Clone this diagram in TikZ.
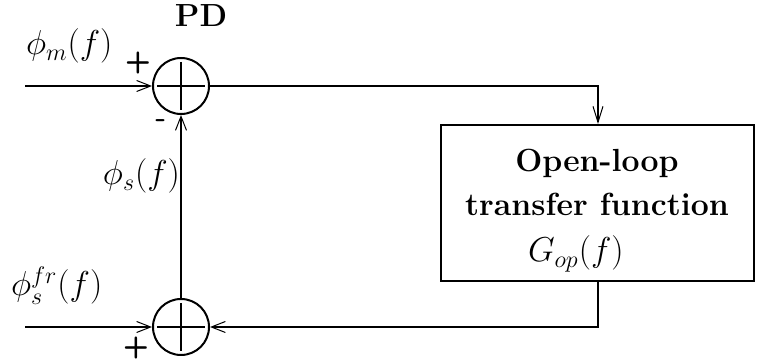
\RequirePackage{fix-cm}
\documentclass[tikz,border=0pt]{standalone}
\usetikzlibrary{arrows.meta}
\begin{document}
\begin{tikzpicture}[x=0.5pt,y=-0.5pt,line width=1pt,
  sumnode/.style={circle,draw,minimum size=28pt,inner sep=0pt},
  blockbox/.style={draw,rectangle,minimum width=156.5pt,minimum height=78pt},
  sig/.style={-{Straight Barb[length=7pt,width=5.5pt,line width=0.5pt]}},
  lbl/.style={font=\fontsize{17.28}{20}\selectfont,inner sep=0pt,anchor=base west},
  sgn/.style={font=\sffamily\bfseries\fontsize{15}{18}\selectfont,inner sep=0pt},
  boxtxt/.style={font=\bfseries\fontsize{16}{19}\selectfont,inner sep=0pt,anchor=base}]
\useasboundingbox (0,0) rectangle (757,362);
% summing junctions
\node[sumnode] (pd) at (181,86) {};
\node[sumnode] (sb) at (181,327) {};
\draw ([xshift=2.5pt]pd.west) -- ([xshift=-2.5pt]pd.east)
      ([yshift=-2.5pt]pd.north) -- ([yshift=2.5pt]pd.south);
\draw ([xshift=2.5pt]sb.west) -- ([xshift=-2.5pt]sb.east)
      ([yshift=-2.5pt]sb.north) -- ([yshift=2.5pt]sb.south);
% open-loop block
\node[blockbox] (g) at (597.5,203) {};
\node[boxtxt] (t1) at (597,172) {Open-loop};
\node[boxtxt] (t2) at (597,216) {transfer function};
\node[lbl] (t3) at (527,262) {$G_{op}(f)$};
% signal paths
\coordinate (inm) at (25,86);
\coordinate (ins) at (25,327);
\coordinate (c1) at (598,86);
\coordinate (c2) at (598,327);
\draw[sig] (inm) -- (pd.west);
\draw[sig] (ins) -- (sb.west);
\draw[sig,-{Straight Barb[length=8pt,width=5pt,line width=0.5pt]}]
  (pd.east) -- (c1) -- (g.north -| c1);
\draw[sig] (g.south -| c2) -- (c2) -- (sb.east);
\draw[sig] (sb.north) -- (pd.south);
% labels
\node[lbl,anchor=base,font=\bfseries\fontsize{16}{19}\selectfont] (pdl) at (201,27) {PD};
\node[lbl] (lm) at (25,55) {$\phi_m(f)$};
\node[lbl] (ls) at (102,185) {$\phi_s(f)$};
\node[lbl] (lfr) at (10,296) {$\phi_s^{fr}(f)$};
\node[sgn] (p1) at (138,63) {+};
\node[sgn] (m1) at (161,124) {-};
\node[sgn] (p2) at (136,348) {+};
\end{tikzpicture}
\end{document}
